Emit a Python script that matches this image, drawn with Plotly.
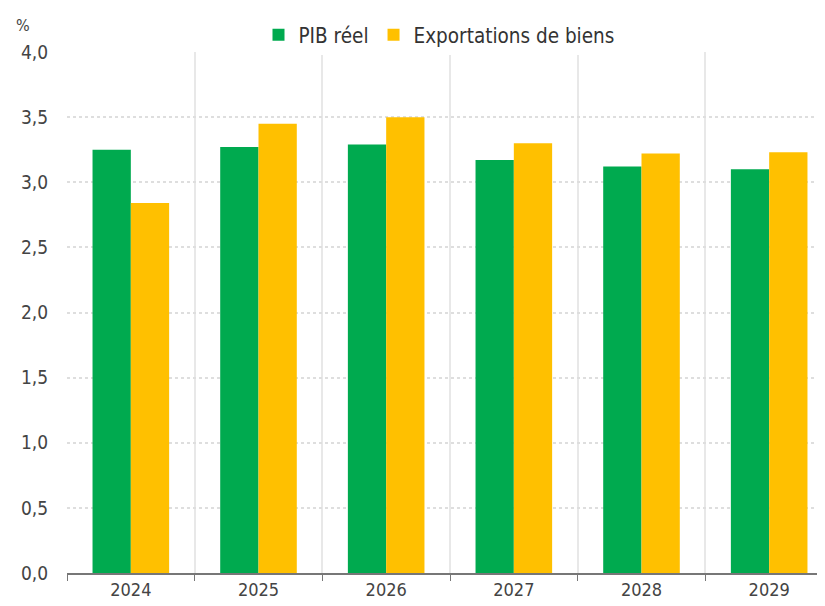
import plotly.graph_objects as go

years = ["2024", "2025", "2026", "2027", "2028", "2029"]
pib_reel = [3.25, 3.27, 3.29, 3.17, 3.12, 3.10]
exportations = [2.84, 3.45, 3.50, 3.30, 3.22, 3.23]
y_ticks = [0, 0.5, 1.0, 1.5, 2.0, 2.5, 3.0, 3.5, 4.0]

FONT = "DejaVu Sans Condensed, Liberation Sans Narrow, sans-serif"

fig = go.Figure()
fig.add_trace(go.Bar(x=years, y=pib_reel, name="PIB réel", marker_color="#00AA4F", marker_line_width=0))
fig.add_trace(go.Bar(x=years, y=exportations, name="Exportations de biens", marker_color="#FFC000", marker_line_width=0))

fig.update_layout(
    width=825, height=606,
    margin=dict(l=59, r=0, t=44, b=41, autoexpand=False),
    paper_bgcolor="white", plot_bgcolor="white",
    barmode="group", bargap=0.4, bargroupgap=0,
    separators=", ",
    font=dict(family=FONT, size=18, color="#444"),
    legend=dict(orientation="h", x=0.25, xanchor="left", y=1.033, yanchor="middle",
                font=dict(size=20.5, color="#333"), itemwidth=30, traceorder="normal",
                tracegroupgap=0),
    showlegend=True,
)
fig.update_xaxes(
    type="category", range=[-0.5, 5.5], automargin=False,
    tickson="boundaries", showgrid=True, gridcolor="#e8e8e8", gridwidth=2,
    showline=True, linecolor="#777", linewidth=1.5,
    ticks="outside", ticklen=6, tickcolor="#777",
    tickfont=dict(size=18, color="#444"),
)
fig.update_yaxes(
    range=[0, 4.0], tickvals=y_ticks, tickformat=".1f", automargin=False,
    showgrid=True, gridcolor="#dedede", griddash="dot", gridwidth=1.5,
    zeroline=False, showline=False,
    ticks="outside", ticklen=14, tickcolor="rgba(0,0,0,0)",
    tickfont=dict(size=19, color="#444"),
)
fig.add_annotation(text="%", xref="paper", yref="paper", x=-0.069, y=1.05, yanchor="middle",
                   xanchor="left", showarrow=False, font=dict(size=16, color="#444"))

fig.write_html("out.html")
